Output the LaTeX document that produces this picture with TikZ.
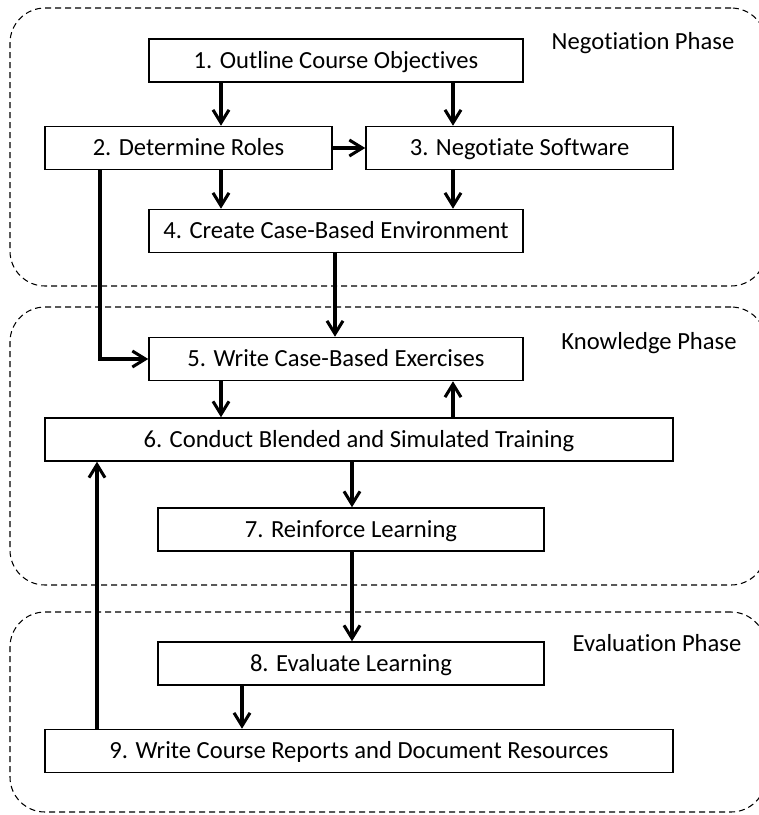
\documentclass[tikz,border=0pt]{standalone}
\usepackage{fontspec}
\setmainfont{Carlito}[Ligatures=NoCommon]
\usetikzlibrary{arrows.meta}
\usetikzlibrary{positioning}
\usetikzlibrary{calc}

\begin{document}
\begin{tikzpicture}[x=0.3mm,y=-0.3mm,
>={Straight Barb[length=3.9mm,width=4.8mm,line width=2.6pt]},
every node/.style={font=\fontsize{21}{24}\selectfont},
stepbox/.style={draw,rectangle,line width=1.3pt,inner sep=0pt,minimum height=12.9mm,text height=16pt,text depth=3pt},
phase/.style={draw,dashed,line width=0.9pt,dash pattern=on 1.8mm off 1.2mm,rounded corners=10.5mm,inner sep=0pt},
arr/.style={->,line width=2.6pt}]

\useasboundingbox (0,0) rectangle (759,815);

% fazis keretek
\node[phase,minimum width=226.8mm,minimum height=83.4mm] (neg) at (388,147) {};
\node[phase,minimum width=226.8mm,minimum height=83.4mm] (know) at (388,446) {};
\node[phase,minimum width=226.8mm,minimum height=60mm] (eval) at (388,712) {};

\node (lneg) at (643,43) {Negotiation Phase};
\node (lknow) at (649,343) {Knowledge Phase};
\node (leval) at (657,643) {Evaluation Phase};

% lepesek
\node[stepbox,minimum width=112.2mm] (b1) at (336,60.5) {1. Outline Course Objectives};
\node[stepbox,minimum width=86.1mm]  (b2) at (188.5,148) {2. Determine Roles};
\node[stepbox,minimum width=92.1mm]  (b3) at (519.5,148) {3. Negotiate Software};
\node[stepbox,minimum width=112.2mm] (b4) at (336,231) {4. Create Case-Based Environment};
\node[stepbox,minimum width=112.2mm] (b5) at (336,359) {5. Write Case-Based Exercises};
\node[stepbox,minimum width=188.4mm] (b6) at (359,439.5) {6. Conduct Blended and Simulated Training};
\node[stepbox,minimum width=115.8mm] (b7) at (351,529.5) {7. Reinforce Learning};
\node[stepbox,minimum width=115.8mm] (b8) at (351,663.5) {8. Evaluate Learning};
\node[stepbox,minimum width=188.4mm] (b9) at (359,751) {9. Write Course Reports and Document Resources};

% nyilak oszlopai
\coordinate (c1) at (221,0);
\coordinate (c2) at (453,0);
\coordinate (c3) at (335,0);
\coordinate (c4) at (352,0);
\coordinate (c5) at (242,0);
\coordinate (c6) at (97,0);
\coordinate (c7) at (100,0);

% nyilak
\draw[arr] (b1.south -| c1) -- (b2.north -| c1);
\draw[arr] (b1.south -| c2) -- (b3.north -| c2);
\draw[arr] (b2.east) -- (b3.west);
\draw[arr] (b2.south -| c1) -- (b4.north -| c1);
\draw[arr] (b3.south -| c2) -- (b4.north -| c2);
\draw[arr] (b2.south -| c7) |- (b5.west);
\draw[arr] (b4.south -| c3) -- (b5.north -| c3);
\draw[arr] (b5.south -| c1) -- (b6.north -| c1);
\draw[arr] (b6.north -| c2) -- (b5.south -| c2);
\draw[arr] (b6.south -| c4) -- (b7.north -| c4);
\draw[arr] (b7.south -| c4) -- (b8.north -| c4);
\draw[arr] (b8.south -| c5) -- (b9.north -| c5);
\draw[arr] (b9.north -| c6) -- (b6.south -| c6);
\end{tikzpicture}
\end{document}
